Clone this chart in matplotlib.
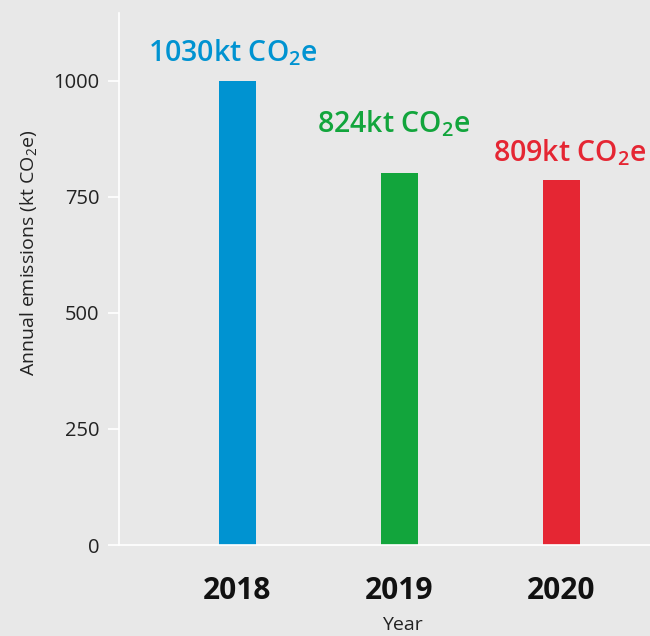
# Annual emissions bar chart (2018-2020)
import matplotlib
matplotlib.use('Agg')
import matplotlib.pyplot as plt
import numpy as np

plt.rcParams['font.family'] = ['Open Sans', 'DejaVu Sans']
plt.rcParams['mathtext.fontset'] = 'custom'
plt.rcParams['mathtext.rm'] = 'Open Sans'
plt.rcParams['mathtext.bf'] = 'Open Sans:semibold'

# data
years = ['2018', '2019', '2020']
bar_values = [1000, 800, 785]
label_values = [1030, 824, 809]
bar_colors = ['#0093d1', '#12a53c', '#e52633']

# label offsets above bar top (points)
label_dx = [-3, -4, 6]
label_dy = [14, 30, 14]

bg = '#e8e8e8'
fig = plt.figure(figsize=(6.5, 6.36), dpi=100, facecolor=bg)
ax = fig.add_axes([0.183, 0.143, 0.817, 0.837], facecolor=bg)

x = np.arange(len(years))
bars = ax.bar(x, bar_values, width=0.228, color=bar_colors, zorder=2)

# value labels above each bar
for i, b in enumerate(bars):
    ax.annotate(f'{label_values[i]}kt CO$_\\mathbf{{2}}$e',
                xy=(b.get_x() + b.get_width() / 2, b.get_height()),
                xytext=(label_dx[i], label_dy[i]), textcoords='offset points',
                ha='center', va='baseline', fontsize=20.5, fontweight='semibold',
                color=bar_colors[i], annotation_clip=False)

ax.set_xlim(-0.731, 2.546)
ax.set_ylim(0, 1146)
ax.set_yticks([0, 250, 500, 750, 1000])
ax.set_xticks(x)
ax.set_xticklabels(years, fontsize=21.5, fontweight='bold', color='#111111')
ax.tick_params(axis='x', length=0, pad=22)
ax.tick_params(axis='y', length=8, width=1.2, color='white', pad=6,
               labelsize=14.5, labelcolor='#222222')

for side in ['top', 'right']:
    ax.spines[side].set_visible(False)
for side in ['left', 'bottom']:
    ax.spines[side].set_color('white')
    ax.spines[side].set_linewidth(1.2)

ax.set_ylabel('Annual emissions (kt CO$_2$e)', fontsize=14, color='#222222')
ax.yaxis.set_label_coords(-0.148, 0.55)
ax.set_xlabel('Year', fontsize=14, color='#222222', va='top')
ax.xaxis.set_label_coords(0.533, -0.133)

plt.savefig('out.png', dpi=100, facecolor=bg)
plt.close()
